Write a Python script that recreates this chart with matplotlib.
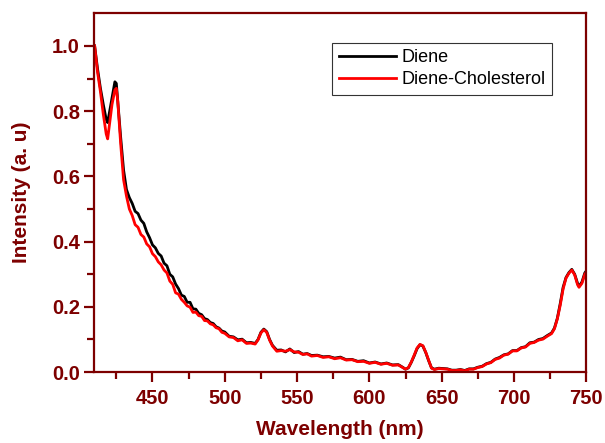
import matplotlib
import matplotlib.pyplot as plt

# emission spectra
wavelength = [410, 412, 414, 416, 418, 419, 420, 422, 424, 425,
              426, 428, 430, 432, 434, 436, 438, 440, 442, 444,
              446, 448, 450, 452, 454, 456, 458, 460, 462, 464,
              466, 468, 470, 472, 474, 476, 478, 480, 482, 484,
              486, 488, 490, 492, 494, 496, 498, 500, 503, 506,
              509, 512, 515, 518, 521, 523, 525, 527, 529, 531,
              533, 536, 539, 542, 545, 548, 551, 554, 557, 560,
              564, 568, 572, 576, 580, 584, 588, 592, 596, 600,
              604, 608, 612, 616, 620, 623, 625, 627, 629, 631,
              633, 635, 637, 639, 641, 643, 645, 648, 651, 654,
              657, 660, 663, 666, 669, 672, 675, 678, 681, 684,
              687, 690, 693, 696, 699, 702, 705, 708, 711, 714,
              717, 720, 723, 726, 728, 730, 732, 734, 736, 738,
              740, 742, 744, 745, 747, 749, 750]

diene = [1.000, 0.930, 0.870, 0.820, 0.775, 0.765, 0.790, 0.840, 0.890, 0.885,
         0.830, 0.720, 0.620, 0.560, 0.535, 0.517, 0.493, 0.486, 0.466, 0.456,
         0.430, 0.412, 0.390, 0.381, 0.364, 0.356, 0.334, 0.326, 0.300, 0.292,
         0.270, 0.256, 0.236, 0.232, 0.214, 0.214, 0.194, 0.193, 0.180, 0.176,
         0.164, 0.161, 0.152, 0.149, 0.139, 0.135, 0.126, 0.123, 0.110, 0.108,
         0.099, 0.101, 0.090, 0.091, 0.088, 0.100, 0.122, 0.132, 0.124, 0.100,
         0.082, 0.067, 0.068, 0.062, 0.071, 0.060, 0.063, 0.055, 0.057, 0.051,
         0.052, 0.047, 0.048, 0.043, 0.046, 0.038, 0.039, 0.033, 0.035, 0.028,
         0.031, 0.025, 0.028, 0.022, 0.023, 0.015, 0.009, 0.013, 0.030, 0.050,
         0.072, 0.084, 0.080, 0.060, 0.035, 0.013, 0.009, 0.012, 0.011, 0.010,
         0.006, 0.006, 0.008, 0.005, 0.010, 0.010, 0.015, 0.018, 0.026, 0.030,
         0.040, 0.045, 0.053, 0.056, 0.066, 0.066, 0.075, 0.078, 0.090, 0.092,
         0.100, 0.103, 0.112, 0.120, 0.135, 0.165, 0.210, 0.260, 0.290, 0.305,
         0.315, 0.300, 0.272, 0.263, 0.276, 0.304, 0.310]

diene_chol = [1.000, 0.920, 0.860, 0.790, 0.730, 0.715, 0.750, 0.820, 0.865, 0.870,
              0.830, 0.700, 0.590, 0.540, 0.500, 0.480, 0.452, 0.444, 0.422, 0.414,
              0.393, 0.384, 0.363, 0.354, 0.338, 0.329, 0.313, 0.304, 0.279, 0.269,
              0.243, 0.239, 0.223, 0.214, 0.203, 0.199, 0.183, 0.184, 0.173, 0.171,
              0.158, 0.157, 0.148, 0.145, 0.136, 0.133, 0.122, 0.119, 0.108, 0.106,
              0.096, 0.099, 0.088, 0.089, 0.086, 0.099, 0.120, 0.130, 0.122, 0.098,
              0.080, 0.064, 0.066, 0.064, 0.069, 0.062, 0.061, 0.054, 0.056, 0.049,
              0.051, 0.045, 0.047, 0.041, 0.044, 0.037, 0.038, 0.032, 0.033, 0.027,
              0.030, 0.024, 0.027, 0.021, 0.022, 0.014, 0.009, 0.014, 0.031, 0.052,
              0.074, 0.085, 0.081, 0.061, 0.036, 0.012, 0.008, 0.011, 0.010, 0.009,
              0.005, 0.005, 0.007, 0.004, 0.009, 0.009, 0.014, 0.017, 0.025, 0.029,
              0.039, 0.043, 0.052, 0.055, 0.065, 0.065, 0.074, 0.077, 0.088, 0.091,
              0.098, 0.101, 0.110, 0.118, 0.133, 0.163, 0.205, 0.255, 0.288, 0.303,
              0.313, 0.298, 0.268, 0.260, 0.272, 0.300, 0.306]

maroon = "#7d0000"

plt.rcParams["figure.figsize"] = (6.05, 4.43)
plt.rcParams["figure.dpi"] = 100
font = {'family': 'Liberation Sans',
        'weight': 'bold',
        'size': 14.5}
matplotlib.rc('font', **font)

fig = plt.figure()
ax = fig.add_axes([0.155, 0.160, 0.814, 0.810])

ax.plot(wavelength, diene, color="black", lw=2.0, label="Diene")
ax.plot(wavelength, diene_chol, color="#ff0000", lw=2.0, label="Diene-Cholesterol")

ax.set_xlim(409.4, 750)
ax.set_ylim(0, 1.1)
ax.set_xticks([450, 500, 550, 600, 650, 700, 750])
ax.set_xticks([425, 475, 525, 575, 625, 675, 725], minor=True)
ax.set_yticks([0.0, 0.2, 0.4, 0.6, 0.8, 1.0])
ax.set_yticks([0.1, 0.3, 0.5, 0.7, 0.9], minor=True)
ax.yaxis.set_major_formatter(matplotlib.ticker.FormatStrFormatter("%.1f"))

for sp in ax.spines.values():
    sp.set_color(maroon)
    sp.set_linewidth(1.6)
ax.tick_params(which="major", direction="out", length=7, width=1.6, colors=maroon, labelsize=14.5)
ax.tick_params(axis="x", which="major", pad=5)
ax.tick_params(axis="y", which="major", pad=3)
ax.tick_params(which="minor", direction="out", length=5, width=1.6, colors=maroon)

ax.set_xlabel("Wavelength (nm)", color=maroon, fontsize=15, fontweight="bold", labelpad=9)
ax.set_ylabel("Intensity (a. u)", color=maroon, fontsize=15, fontweight="bold", labelpad=15)

leg = ax.legend(loc="upper right", bbox_to_anchor=(0.931, 0.918), borderaxespad=0,
                prop={'family': 'Liberation Sans', 'weight': 'normal', 'size': 13},
                fancybox=False, framealpha=1, edgecolor="#333333",
                handlelength=3.2, handletextpad=0.3, labelspacing=0.3,
                borderpad=0.35)
leg.get_frame().set_linewidth(0.8)

plt.savefig("out.png")
